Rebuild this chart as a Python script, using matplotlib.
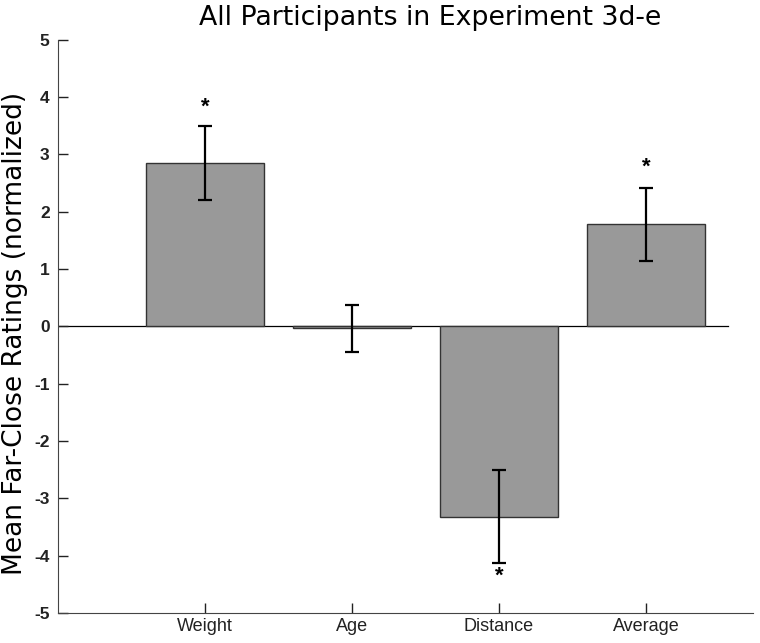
import numpy as np
import matplotlib.pyplot as plt

plt.rcParams['font.family'] = ['Liberation Sans', 'DejaVu Sans']

# Данные
categories = ['Weight', 'Age', 'Distance', 'Average']
means = [2.85, -0.03, -3.32, 1.78]
errors = [0.64, 0.41, 0.81, 0.63]
star_y = [3.83, None, -4.36, 2.78]
y_ticks = [-5, -4, -3, -2, -1, 0, 1, 2, 3, 4, 5]

x = np.arange(1, len(categories) + 1)

fig = plt.figure(figsize=(7.6, 6.43), dpi=100)
ax = fig.add_axes([0.0763, 0.0467, 0.9147, 0.8913])

ax.bar(x, means, width=0.8, color='#999999', edgecolor='#333333', linewidth=1.0, zorder=2)
ax.errorbar(x, means, yerr=errors, fmt='none', ecolor='black', elinewidth=1.6,
            capsize=5, capthick=1.6, zorder=3)

# Линия нуля
ax.plot([0, 4.56], [0, 0], color='black', linewidth=0.9, zorder=1)

# Звездочки значимости
for xi, sy in zip(x, star_y):
    if sy is not None:
        ax.text(xi, sy, '*', ha='center', va='center', fontsize=16, fontweight='bold')

ax.set_xlim(0, 4.73)
ax.set_ylim(-5, 5)
ax.set_xticks(x)
ax.set_xticklabels(categories, fontsize=13)
ax.set_yticks(y_ticks)
ax.set_yticklabels([str(t) for t in y_ticks], fontsize=12.5, fontweight='bold')
ax.tick_params(direction='in', length=7, width=1, colors='#222222')
ax.tick_params(axis='y', pad=6)

ax.spines['top'].set_visible(False)
ax.spines['right'].set_visible(False)
ax.spines['left'].set_color('#444444')
ax.spines['bottom'].set_color('#444444')

# Подписи: шрифт пошире, как в оригинале
fig.text(0.0197, 0.482, 'Mean Far-Close Ratings (normalized)', rotation=90,
         ha='center', va='center', fontsize=19, family='DejaVu Sans')
fig.text(0.566, 0.961, 'All Participants in Experiment 3d-e', ha='center',
         va='baseline', fontsize=19.3, family='DejaVu Sans')

fig.savefig('out.png', dpi=100)
